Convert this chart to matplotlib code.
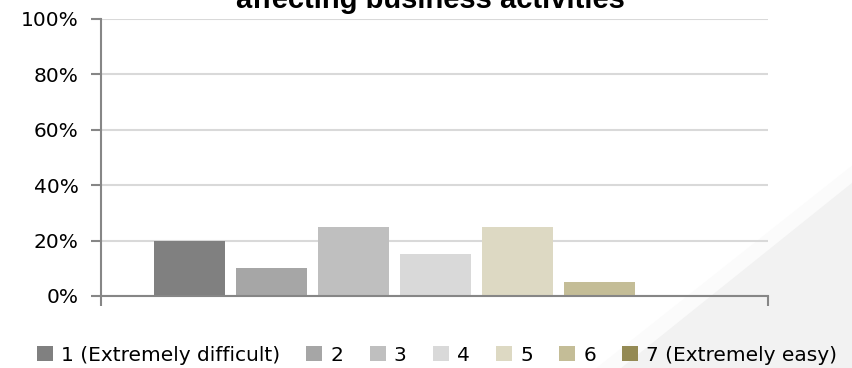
import matplotlib.pyplot as plt
from matplotlib.patches import Polygon, Patch
from matplotlib.ticker import PercentFormatter

categories = ['1 (Extremely difficult)', '2', '3', '4', '5', '6', '7 (Extremely easy)']
shares = [20, 10, 25, 15, 25, 5, 0]
colors = ['#808080', '#a6a6a6', '#bfbfbf', '#d9d9d9', '#ddd9c3', '#c4bd97', '#948a54']
title = 'affecting business activities'

fig = plt.figure(figsize=(8.52, 3.68), dpi=100)

# pale diagonal wedge in the lower right corner
fig.patches.append(Polygon([[0.70, 0.0], [1.0, 0.55], [1.0, 0.0]], closed=True,
                           transform=fig.transFigure, facecolor='#fbfbfb',
                           edgecolor='none', zorder=-2))
fig.patches.append(Polygon([[0.729, 0.0], [1.0, 0.503], [1.0, 0.0]], closed=True,
                           transform=fig.transFigure, facecolor='#f2f2f2',
                           edgecolor='none', zorder=-1))

ax = fig.add_axes([0.1185, 0.1957, 0.7825, 0.7527])
ax.patch.set_alpha(0)

x = list(range(len(shares)))
ax.bar(x, shares, width=0.866, color=colors, zorder=3)

ax.set_xlim(-1.08, 7.05)
ax.set_ylim(0, 100)
ax.set_yticks(range(0, 101, 20))
ax.yaxis.set_major_formatter(PercentFormatter(decimals=0))
ax.grid(axis='y', color='#d9d9d9', linewidth=1.5, zorder=0)

for side in ['top', 'right']:
    ax.spines[side].set_visible(False)
for side in ['left', 'bottom']:
    ax.spines[side].set_color('#868686')
    ax.spines[side].set_linewidth(1.5)
    ax.spines[side].set_zorder(4)

ax.set_xticks([-1.08, 7.049])
ax.set_xticklabels([])
ax.tick_params(axis='x', length=7, width=1.5, color='#868686')
ax.tick_params(axis='y', length=7, width=1.5, color='#868686', pad=9,
               labelsize=14.5, labelcolor='#000000')

# only the lower line of the chart title shows at the top edge
fig.text(0.505, 1 - 8 / 368, title, ha='center', va='baseline', fontsize=21,
         fontweight='bold', family='Liberation Sans')

handles = [Patch(facecolor=c, edgecolor='none') for c in colors]
fig.legend(handles, categories, loc='center', bbox_to_anchor=(0.513, 0.035),
           ncol=7, frameon=False, handlelength=0.8, handleheight=0.8,
           handletextpad=0.4, columnspacing=1.3, borderpad=0,
           prop={'family': 'DejaVu Sans', 'size': 14.5})

fig.savefig('out.png', dpi=100)
